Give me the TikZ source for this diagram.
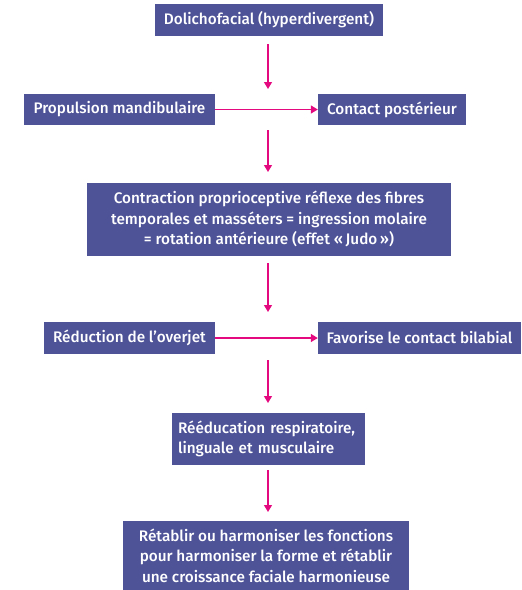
\documentclass[tikz,border=0pt]{standalone}
\usepackage{fontspec}
\setmainfont{Fira Sans}[UprightFont=* Medium]
\usetikzlibrary{arrows.meta}
\definecolor{boxblue}{HTML}{4E5398}
\definecolor{arrmag}{HTML}{E5097F}
\begin{document}
\begin{tikzpicture}[x=1pt,y=-1pt,
  box/.style={fill=boxblue,text=white,font=\fontsize{15.3}{20.5}\selectfont,inner sep=0pt,anchor=center},
  conn/.style={draw=arrmag,line width=1.3pt,-{Triangle[length=7pt,width=8pt]}}]
\useasboundingbox (0,0) rectangle (522,590);
\node[box,minimum width=228pt,minimum height=32pt] (a) at (269,20) {Dolichofacial (hyperdivergent)};
\node[box,minimum width=191pt,minimum height=31pt] (b) at (119.5,109.5) {Propulsion mandibulaire};
\node[box,minimum width=148pt,minimum height=31pt] (c) at (392,109.5) {Contact postérieur};
\node[box,minimum width=364pt,minimum height=73pt,align=center] (d) at (269,219) {Contraction proprioceptive réflexe des fibres\\temporales et masséters = ingression molaire\\= rotation antérieure (effet «\,Judo\,»)};
\node[box,minimum width=171pt,minimum height=32pt] (e) at (129.5,338) {Réduction de l’overjet};
\node[box,minimum width=203pt,minimum height=32pt] (f) at (419.5,338) {Favorise le contact bilabial};
\node[box,minimum width=193pt,minimum height=52pt,align=left,text width=181pt] (g) at (268.5,439) {Rééducation respiratoire,\\linguale et musculaire};
\node[box,minimum width=286pt,minimum height=69pt,align=center] (h) at (266,555.5) {Rétablir ou harmoniser les fonctions\\pour harmoniser la forme et rétablir\\une croissance faciale harmonieuse};
\coordinate (a1) at (268,44); \coordinate (a2) at (268,89);
\coordinate (b1) at (268,130); \coordinate (b2) at (268,172);
\coordinate (d1) at (268,263); \coordinate (d2) at (268,312);
\coordinate (e1) at (268,360); \coordinate (e2) at (268,403);
\coordinate (g1) at (268,470); \coordinate (g2) at (268,512);
\draw[conn] (a1) -- (a2);
\draw[conn] (b.east) -- (c.west);
\draw[conn] (b1) -- (b2);
\draw[conn] (d1) -- (d2);
\draw[conn] (e.east) -- (f.west);
\draw[conn] (e1) -- (e2);
\draw[conn] (g1) -- (g2);
\end{tikzpicture}
\end{document}
